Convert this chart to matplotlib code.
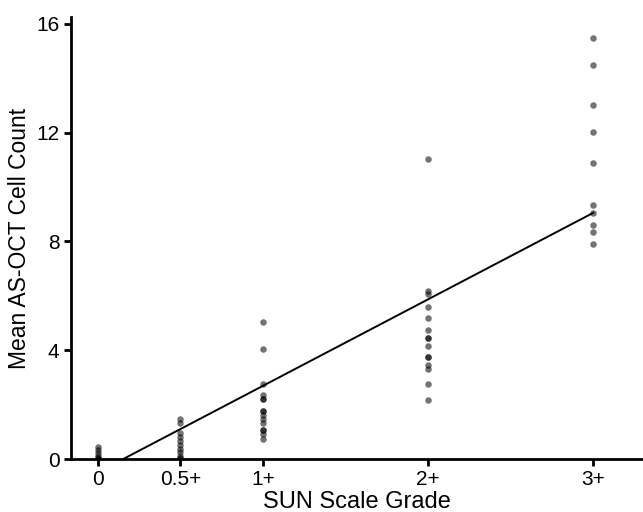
"""
plot.py

SUN scale grade vs mean AS-OCT cell count, with fitted line.
"""
import matplotlib
matplotlib.use('Agg')
import matplotlib.pyplot as plt

# grade positions and labels
lstGradePos    = [0, 0.5, 1, 2, 3]
lstGradeLabels = ['0', '0.5+', '1+', '2+', '3+']

# mean cell counts per grade
lstGrade0   = [0.45, 0.34, 0.23, 0.12, 0.05, 0.0, 0.0]
lstGrade05  = [1.46, 1.31, 0.94, 0.80, 0.66, 0.52, 0.38, 0.25, 0.12, 0.05, 0.0]
lstGrade1   = [5.02, 4.03, 2.76, 2.35, 2.19, 2.19, 1.76, 1.76, 1.62, 1.47, 1.31, 1.07, 1.07, 0.91, 0.72]
lstGrade2   = [11.03, 6.18, 6.07, 5.60, 5.17, 4.74, 4.46, 4.46, 4.17, 3.75, 3.75, 3.46, 3.32, 2.75, 2.18]
lstGrade3   = [15.47, 14.47, 13.03, 12.04, 10.88, 9.34, 9.06, 8.61, 8.33, 7.89]

# fitted line
fSlope     = 3.18
fIntercept = -0.49

plt.rcParams['font.family'] = ['Liberation Sans', 'DejaVu Sans']

fig = plt.figure(figsize=(6.43, 5.12), dpi=100)
ax = fig.add_axes([0.110, 0.1035, 0.8896, 0.8633])

lstGroups = [lstGrade0, lstGrade05, lstGrade1, lstGrade2, lstGrade3]
for fPos, lstVals in zip(lstGradePos, lstGroups):
    ax.scatter([fPos] * len(lstVals), lstVals, s=22, color='black', alpha=0.55,
               linewidths=0, zorder=3)

# line from where it crosses zero up to the last grade
fStart = -fIntercept / fSlope
fEnd = lstGradePos[-1]
ax.plot([fStart, fEnd], [fSlope * fStart + fIntercept, fSlope * fEnd + fIntercept],
        color='black', lw=1.4, zorder=2)

ax.set_xlim(-0.164, 3.30)
ax.set_ylim(0, 16.25)
ax.set_xticks(lstGradePos)
ax.set_xticklabels(lstGradeLabels)
ax.set_yticks([0, 4, 8, 12, 16])

for strSide in ['top', 'right']:
    ax.spines[strSide].set_visible(False)
for strSide in ['left', 'bottom']:
    ax.spines[strSide].set_linewidth(2.0)
ax.tick_params(axis='both', width=2.0, length=5, labelsize=15, pad=3)

ax.set_xlabel('SUN Scale Grade', fontsize=17, labelpad=1)
ax.set_ylabel('Mean AS-OCT Cell Count', fontsize=16.5, labelpad=4)

fig.savefig('out.png', dpi=100)
